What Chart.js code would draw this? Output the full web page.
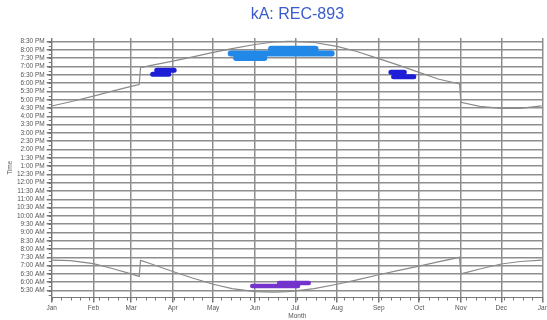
<!DOCTYPE html>
<html>
<head>
<meta charset="utf-8">
<title>kA: REC-893</title>
<script src="https://cdn.jsdelivr.net/npm/chart.js@4.4.0/dist/chart.umd.min.js"></script>
<style>
  body { margin: 0; background: #fff; }
  #wrap { width: 547px; height: 320px; }
</style>
</head>
<body>
<div id="wrap"><canvas id="myChart" width="547" height="320"></canvas></div>
<script>
const chartTitle = 'kA: REC-893';

// x axis: day of year, ticks on the first of each month
const monthStarts = [0, 31, 59, 90, 120, 151, 181, 212, 243, 273, 304, 334, 365];
const monthLabels = ['Jan', 'Feb', 'Mar', 'Apr', 'May', 'Jun', 'Jul', 'Aug', 'Sep', 'Oct', 'Nov', 'Dec', 'Jan'];

// y axis: time of day in hours
const timeTicks = [5.5, 6, 6.5, 7, 7.5, 8, 8.5, 9, 9.5, 10, 10.5, 11, 11.5, 12, 12.5, 13,
    13.5, 14, 14.5, 15, 15.5, 16, 16.5, 17, 17.5, 18, 18.5, 19, 19.5, 20, 20.5];
const timeLabels = ['5:30 AM', '6:00 AM', '6:30 AM', '7:00 AM', '7:30 AM', '8:00 AM', '8:30 AM',
    '9:00 AM', '9:30 AM', '10:00 AM', '10:30 AM', '11:00 AM', '11:30 AM', '12:00 PM', '12:30 PM',
    '1:00 PM', '1:30 PM', '2:00 PM', '2:30 PM', '3:00 PM', '3:30 PM', '4:00 PM', '4:30 PM',
    '5:00 PM', '5:30 PM', '6:00 PM', '6:30 PM', '7:00 PM', '7:30 PM', '8:00 PM', '8:30 PM'];

// sunrise / sunset lines (day of year -> hours), with the clock change jumps
const sunDays = [0, 14, 31, 45, 59, 65, 66, 73, 90, 104, 120, 134, 151, 165, 175, 181, 195,
    212, 226, 243, 257, 273, 287, 303, 304, 318, 334, 348, 364];
const sunriseTimes = [7.33, 7.3, 7.12, 6.83, 6.5, 6.35, 7.32, 7.13, 6.65, 6.27, 5.88, 5.62, 5.43,
    5.4, 5.43, 5.48, 5.62, 5.88, 6.13, 6.45, 6.7, 6.97, 7.23, 7.5, 6.5, 6.8, 7.1, 7.25, 7.33];
const sunsetTimes = [16.62, 16.88, 17.22, 17.52, 17.8, 17.92, 18.93, 19.05, 19.33, 19.57, 19.85,
    20.08, 20.33, 20.48, 20.52, 20.52, 20.45, 20.22, 19.92, 19.48, 19.1, 18.65, 18.25, 17.95,
    16.85, 16.6, 16.48, 16.48, 16.63];

// observation clusters, a null time breaks the stroke
const springDays = [78, 91, 91, 75, 87];
const springTimes = [18.78, 18.78, null, 18.54, 18.54];
const summerDays = [163, 196, 196, 133, 208, 208, 137, 158];
const summerTimes = [20.07, 20.07, null, 19.78, 19.78, null, 19.52, 19.52];
const autumnDays = [252, 262, 262, 254, 269];
const autumnTimes = [18.65, 18.65, null, 18.39, 18.39];
const dawnDays = [169, 191, 191, 149, 183];
const dawnTimes = [5.96, 5.96, null, 5.78, 5.78];

const fontFamily = '"Liberation Sans", Arial, sans-serif';

function toPoints(days, times) {
    return days.map((d, i) => ({ x: d, y: times[i] }));
}

function curve(days, times) {
    return {
        data: toPoints(days, times),
        borderColor: '#8a8a8a',
        borderWidth: 1.2,
        pointRadius: 0,
        tension: 0,
        order: 2
    };
}

function blob(days, times, color, width) {
    return {
        data: toPoints(days, times),
        borderColor: color,
        borderWidth: width,
        borderCapStyle: 'round',
        pointRadius: 0,
        spanGaps: false,
        tension: 0,
        order: 1
    };
}

// small weekly / quarter hour ticks along the axes
const minorTicks = {
    id: 'minorTicks',
    afterDraw(chart) {
        const { ctx, chartArea, scales } = chart;
        ctx.save();
        ctx.strokeStyle = '#777';
        ctx.lineWidth = 1;
        ctx.beginPath();
        for (let d = 0; d <= 365; d += 7) {
            const x = Math.round(scales.x.getPixelForValue(d)) + 0.5;
            ctx.moveTo(x, chartArea.bottom);
            ctx.lineTo(x, chartArea.bottom + 3);
        }
        for (let h = 5.25; h <= 20.5; h += 0.25) {
            const y = Math.round(scales.y.getPixelForValue(h)) + 0.5;
            ctx.moveTo(chartArea.left - 3, y);
            ctx.lineTo(chartArea.left, y);
        }
        ctx.stroke();
        ctx.restore();
    }
};

// title centred over the plot area
const titleText = {
    id: 'titleText',
    afterDraw(chart) {
        const { ctx, chartArea } = chart;
        ctx.save();
        ctx.font = '16px ' + fontFamily;
        ctx.fillStyle = '#3a5ccc';
        ctx.textAlign = 'center';
        ctx.textBaseline = 'middle';
        ctx.fillText(chartTitle, (chartArea.left + chartArea.right) / 2, 15);
        ctx.restore();
    }
};

const ctx = document.getElementById('myChart');

new Chart(ctx, {
    type: 'line',
    data: {
        datasets: [
            blob(springDays, springTimes, '#1e1ed6', 5),
            blob(summerDays, summerTimes, '#2188e8', 6),
            blob(autumnDays, autumnTimes, '#1e1ed6', 5),
            blob(dawnDays, dawnTimes, '#7433cc', 4.5),
            curve(sunDays, sunsetTimes),
            curve(sunDays, sunriseTimes)
        ]
    },
    options: {
        responsive: false,
        animation: false,
        devicePixelRatio: 1,
        layout: { padding: { top: 38, right: 4, left: 0, bottom: 0 } },
        plugins: {
            legend: { display: false },
            tooltip: { enabled: false },
            title: { display: false }
        },
        scales: {
            x: {
                type: 'linear',
                min: 0,
                max: 365,
                afterBuildTicks: axis => { axis.ticks = monthStarts.map(v => ({ value: v })); },
                afterFit: axis => { axis.height = 22.5; axis.paddingRight = 0; axis.paddingLeft = 0; },
                ticks: {
                    autoSkip: false,
                    maxRotation: 0,
                    padding: 2,
                    color: '#555',
                    font: { family: fontFamily, size: 6.5 },
                    callback: (v, i) => monthLabels[i]
                },
                grid: { color: '#8e8e8e', lineWidth: 1.5, tickLength: 5, tickColor: '#777' },
                border: { display: true, color: '#777', width: 1 },
                title: {
                    display: true,
                    text: 'Month',
                    padding: 0,
                    color: '#555',
                    font: { family: fontFamily, size: 6.5 }
                }
            },
            y: {
                type: 'linear',
                min: 5.08,
                max: 20.72,
                afterBuildTicks: axis => { axis.ticks = timeTicks.map(v => ({ value: v })); },
                afterFit: axis => { axis.width = 51.7; },
                ticks: {
                    autoSkip: false,
                    padding: 2,
                    color: '#555',
                    font: { family: fontFamily, size: 6.5 },
                    callback: (v, i) => timeLabels[i]
                },
                grid: { color: '#8e8e8e', lineWidth: 1.5, tickLength: 5, tickColor: '#777' },
                border: { display: true, color: '#777', width: 1 },
                title: {
                    display: true,
                    text: 'Time',
                    padding: { top: 6, bottom: 0 },
                    color: '#555',
                    font: { family: fontFamily, size: 6.5 }
                }
            }
        }
    },
    plugins: [minorTicks, titleText]
});
</script>
</body>
</html>
